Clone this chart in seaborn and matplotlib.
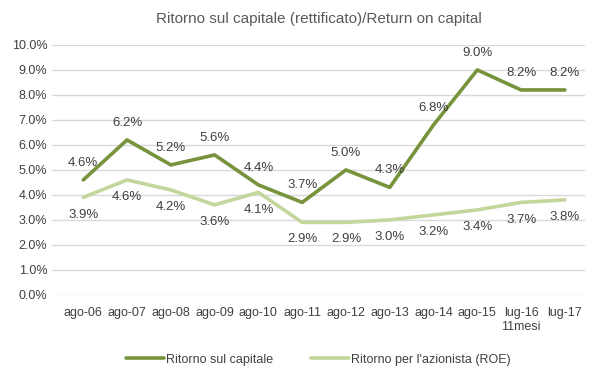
import numpy as np
import pandas as pd
import matplotlib
matplotlib.use("Agg")
import matplotlib.pyplot as plt
import seaborn as sns

periods = ["ago-06", "ago-07", "ago-08", "ago-09", "ago-10", "ago-11", "ago-12",
           "ago-13", "ago-14", "ago-15", "lug-16\n11mesi", "lug-17"]
roc = [4.6, 6.2, 5.2, 5.6, 4.4, 3.7, 5.0, 4.3, 6.8, 9.0, 8.2, 8.2]
roe = [3.9, 4.6, 4.2, 3.6, 4.1, 2.9, 2.9, 3.0, 3.2, 3.4, 3.7, 3.8]
series_names = ["Ritorno sul capitale", "Ritorno per l'azionista (ROE)"]
colors = ["#77933C", "#C3D69B"]

sns.set_style("white")
plt.rcParams["font.family"] = ["Liberation Sans", "DejaVu Sans"]

df = pd.DataFrame({
    "periodo": periods * 2,
    "valore": roc + roe,
    "serie": [series_names[0]] * len(periods) + [series_names[1]] * len(periods),
})

fig, ax = plt.subplots(figsize=(6, 3.78), dpi=100)
fig.subplots_adjust(left=0.087, right=0.975, top=0.881, bottom=0.22)

sns.lineplot(data=df, x="periodo", y="valore", hue="serie", palette=colors,
             linewidth=2.6, sort=False, ax=ax)

text_col = "#404040"
for i, (a, b) in enumerate(zip(roc, roe)):
    ax.annotate(f"{a:.1f}%", (i, a), xytext=(0, 8), textcoords="offset points",
                ha="center", va="bottom", fontsize=9.5, color=text_col)
    ax.annotate(f"{b:.1f}%", (i, b), xytext=(0, -8), textcoords="offset points",
                ha="center", va="top", fontsize=9.5, color=text_col)

ax.set_ylim(0, 10)
ax.set_xlim(-0.71, len(periods) - 0.54)
ax.set_yticks(np.arange(0, 10.5, 1))
ax.set_yticklabels([f"{v:.1f}%" for v in np.arange(0, 10.5, 1)])
ax.yaxis.grid(True, color="#D9D9D9", linewidth=1)
ax.tick_params(axis="both", labelsize=9, colors=text_col, length=0)
ax.tick_params(axis="x", pad=9)
ax.set_xlabel("")
ax.set_ylabel("")
for s in ax.spines.values():
    s.set_visible(False)

ax.set_title("Ritorno sul capitale (rettificato)/Return on capital",
             fontsize=11, color="#595959", pad=16)

ax.legend(loc="upper center", bbox_to_anchor=(0.5, -0.19), ncol=2, frameon=False,
          fontsize=9, handlelength=3, handletextpad=0.2, columnspacing=3,
          labelcolor=text_col)

plt.savefig("out.png", dpi=100)
